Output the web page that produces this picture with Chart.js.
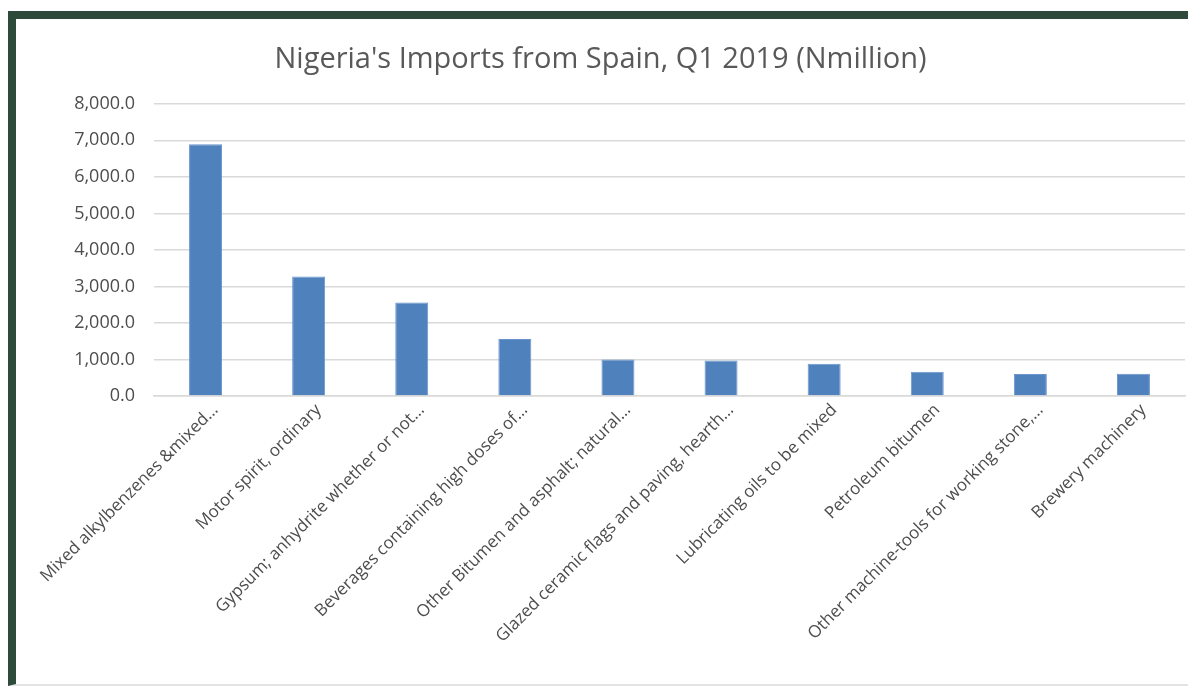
<!DOCTYPE html>
<html>
<head>
<meta charset="utf-8">
<script src="https://cdn.jsdelivr.net/npm/chart.js@4"></script>
<style>
    html, body { margin: 0; padding: 0; background: #fff; }
    body { width: 1188px; height: 688px; position: relative; overflow: hidden; }
    .frame {
        position: absolute; left: 8px; top: 11px; width: 1180px; height: 675px;
        border-top: 8px solid #2d4a3a; border-left: 8px solid #2d4a3a;
        border-bottom: 2px solid #e3e3e3;
        box-sizing: border-box; background: #fff;
    }
    .chart-box { position: absolute; left: 16px; top: 19px; width: 1172px; height: 665px; }
</style>
</head>
<body>
<div class="frame"></div>
<div class="chart-box"><canvas id="importsChart" width="1172" height="665"></canvas></div>
<script>
const categories = [
    'Mixed alkylbenzenes &mixed…',
    'Motor spirit, ordinary',
    'Gypsum; anhydrite whether or not…',
    'Beverages containing high doses of…',
    'Other Bitumen and asphalt; natural…',
    'Glazed ceramic flags and paving, hearth…',
    'Lubricating oils to be mixed',
    'Petroleum bitumen',
    'Other machine-tools for working stone,…',
    'Brewery machinery'
];
const importValues = [6890, 3275, 2560, 1560, 1000, 975, 885, 665, 600, 610];
const yTicks = [0, 1000, 2000, 3000, 4000, 5000, 6000, 7000, 8000];

const titleColor = '#595959';
const tickColor = '#4d4d4d';
const gridColor = '#d9d9d9';
const fontFamily = '"Open Sans", Lato, sans-serif';

const ctx = document.getElementById('importsChart').getContext('2d');
window.importsChart = new Chart(ctx, {
    type: 'bar',
    data: {
        labels: categories,
        datasets: [{
            label: 'Imports (Nmillion)',
            data: importValues,
            backgroundColor: '#4f81bd',
            borderColor: '#6a95cc',
            borderWidth: 1,
            barPercentage: 0.32,
            categoryPercentage: 1
        }]
    },
    options: {
        responsive: false,
        animation: false,
        devicePixelRatio: 1,
        layout: { padding: { left: 0, right: 3, top: 0, bottom: 0 } },
        plugins: {
            legend: { display: false },
            tooltip: { enabled: false },
            title: {
                display: true,
                text: "Nigeria's Imports from Spain, Q1 2019 (Nmillion)",
                color: titleColor,
                font: { family: fontFamily, size: 29, weight: 'normal' },
                padding: { top: 23, bottom: 27 }
            }
        },
        scales: {
            x: {
                grid: { display: false, drawTicks: false },
                border: { color: gridColor, width: 1.5 },
                ticks: {
                    color: tickColor,
                    font: { family: fontFamily, size: 17 },
                    maxRotation: 45,
                    minRotation: 45,
                    autoSkip: false,
                    labelOffset: 10,
                    padding: 4
                },
                afterFit: (scale) => { scale.height = 288; }
            },
            y: {
                min: 0,
                max: 8000,
                afterBuildTicks: (scale) => {
                    scale.ticks = yTicks.map(v => ({ value: v }));
                },
                grid: { color: gridColor, lineWidth: 1.5, drawTicks: false },
                border: { display: false },
                ticks: {
                    color: tickColor,
                    font: { family: fontFamily, size: 18 },
                    padding: 19,
                    callback: (v) => Number(v).toLocaleString('en-US', { minimumFractionDigits: 1, maximumFractionDigits: 1 })
                },
                afterFit: (scale) => { scale.width = 138; }
            }
        }
    }
});
</script>
</body>
</html>
